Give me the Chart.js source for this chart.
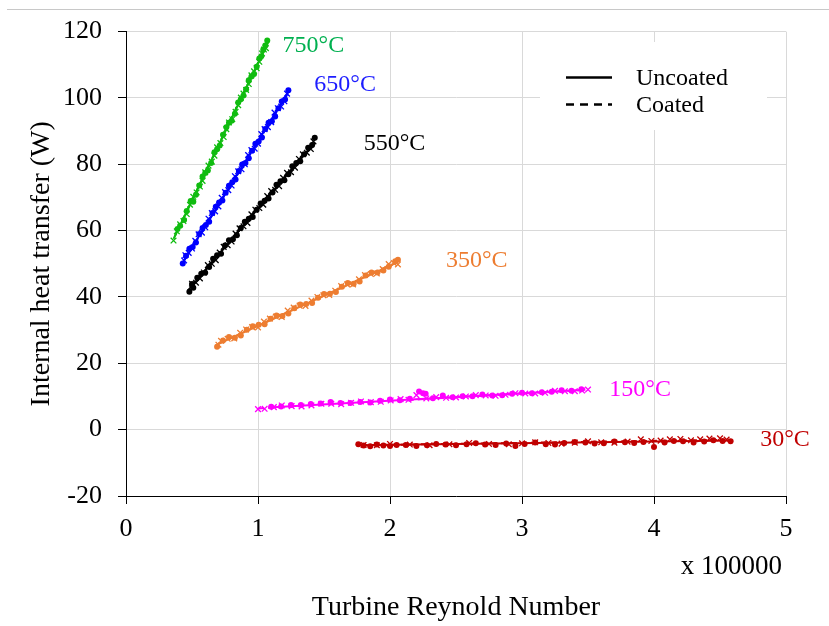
<!DOCTYPE html>
<html>
<head>
<meta charset="utf-8">
<script src="https://cdn.jsdelivr.net/npm/chart.js@4.4.1/dist/chart.umd.min.js"></script>
<style>
  html, body { margin: 0; padding: 0; background: #fff; }
  canvas { display: block; }
</style>
</head>
<body>
<canvas id="myChart" width="829" height="626"></canvas>
<script>
// temperatures and their series (x in units of 100000)
const temps = ['750°C', '650°C', '550°C', '350°C', '150°C', '30°C'];

// uncoated measurements (dots)
const u750 = [[0.39,60.5],[0.44,63.2],[0.49,68.9],[0.53,70.8],[0.58,76.3],[0.62,78.1],[0.67,83.6],[0.71,85.7],[0.76,91.2],[0.80,93.1],[0.85,98.6],[0.89,100.7],[0.93,105.3],[0.97,107.2],[1.01,111.9],[1.04,114.5],[1.07,117.3],
  [0.41,61.5],[0.46,65.9],[0.51,68.7],[0.555,73.6],[0.60,77.4],[0.645,80.4],[0.69,84.5],[0.735,88.9],[0.78,92.5],[0.825,95.2],[0.87,99.6],[0.91,102.6],[0.95,106.5],[0.99,109.4],[1.025,112.6],[1.055,115.8]];
const u650 = [[0.43,50.1],[0.48,54.5],[0.53,56.4],[0.58,60.8],[0.63,62.7],[0.68,67.2],[0.73,69.1],[0.78,73.5],[0.83,75.4],[0.88,79.9],[0.93,81.8],[0.98,86.2],[1.03,88.1],[1.08,92.5],[1.13,94.4],[1.18,98.9],[1.23,102.3],
  [0.455,52.4],[0.505,55.1],[0.555,59.0],[0.605,61.7],[0.655,65.3],[0.705,68.5],[0.755,71.4],[0.805,74.6],[0.855,78.0],[0.905,80.4],[0.955,84.1],[1.005,86.9],[1.055,90.6],[1.105,93.0],[1.155,96.9],[1.205,99.5]];
const u550 = [[0.48,41.6],[0.54,45.8],[0.60,47.3],[0.66,51.5],[0.72,53.0],[0.78,57.1],[0.84,58.6],[0.90,62.7],[0.96,64.1],[1.02,68.2],[1.08,69.7],[1.14,73.8],[1.20,75.2],[1.26,79.4],[1.32,80.9],[1.38,85.0],[1.43,88.0],
  [0.50,43.9],[0.51,42.8],[0.57,47.0],[0.63,49.0],[0.69,52.6],[0.75,55.5],[0.81,57.4],[0.87,60.8],[0.93,63.6],[0.99,66.3],[1.05,69.0],[1.11,71.5],[1.17,74.9],[1.23,77.0],[1.29,80.4],[1.35,83.0],[1.41,85.8]];
const u350 = [[0.69,25.0],[0.78,27.9],[0.87,28.4],[0.96,31.2],[1.05,31.8],[1.14,34.4],[1.23,35.0],[1.32,37.7],[1.41,38.2],[1.50,40.9],[1.59,41.5],[1.68,44.2],[1.77,44.7],[1.86,47.4],[1.95,48.0],[2.04,50.8],
  [0.735,26.9],[0.825,27.7],[0.915,30.1],[1.005,31.6],[1.095,33.4],[1.185,34.3],[1.275,36.6],[1.365,37.9],[1.455,39.8],[1.545,41.0],[1.635,43.1],[1.725,44.0],[1.815,46.5],[1.905,47.4],[1.99,49.1],[2.06,51.2]];
const u150 = [[1.10,6.9],[1.25,7.4],[1.40,7.7],[1.55,8.3],[1.70,8.0],[1.85,8.2],[2.00,9.1],[2.15,9.3],[2.22,11.5],[2.27,10.8],[2.40,10.3],[2.55,10.1],[2.70,10.6],[2.85,10.4],[3.00,11.1],[3.15,11.3],[3.30,11.9],[3.45,12.2],
  [1.175,7.0],[1.325,7.4],[1.475,7.9],[1.625,8.0],[1.775,8.3],[1.925,8.7],[2.075,8.9],[2.25,11.0],[2.325,9.5],[2.475,9.8],[2.625,10.1],[2.775,10.3],[2.925,10.8],[3.075,11.0],[3.225,11.4],[3.375,11.7]];
const u30 = [[1.76,-4.4],[1.85,-5.0],[1.95,-4.8],[2.05,-4.6],[2.20,-4.9],[2.35,-4.3],[2.50,-4.7],[2.65,-4.1],[2.80,-4.6],[2.95,-4.9],[3.10,-3.9],[3.25,-4.5],[3.40,-3.7],[3.55,-4.2],[3.70,-3.6],[3.85,-4.0],[4.00,-5.2],[4.15,-3.4],[4.30,-3.9],[4.45,-3.2],[4.58,-3.5],
  [1.80,-4.8],[1.90,-4.5],[2.00,-4.9],[2.12,-4.6],[2.28,-4.7],[2.42,-4.5],[2.58,-4.4],[2.72,-4.5],[2.88,-4.2],[3.02,-4.3],[3.18,-4.4],[3.32,-4.0],[3.48,-3.9],[3.62,-4.1],[3.78,-3.8],[3.92,-3.7],[4.08,-3.9],[4.22,-3.5],[4.38,-3.6],[4.52,-3.4]];

// coated measurements (crosses)
const c750 = [[0.36,57.0],[0.41,61.9],[0.46,65.0],[0.51,70.2],[0.56,73.3],[0.60,77.6],[0.65,80.8],[0.69,85.1],[0.74,88.2],[0.78,92.6],[0.83,95.8],[0.87,100.1],[0.91,102.4],[0.95,106.8],[0.99,109.0],[1.03,113.4],[1.06,115.0],
  [0.385,59.8],[0.435,62.9],[0.485,67.8],[0.535,71.5],[0.58,75.0],[0.625,79.6],[0.67,82.6],[0.715,86.4],[0.76,90.6],[0.805,93.6],[0.85,97.8],[0.89,101.3],[0.93,104.2],[0.97,108.0],[1.01,110.9],[1.045,114.6]];
const c650 = [[0.45,52.6],[0.50,54.6],[0.55,58.9],[0.60,61.0],[0.65,65.3],[0.70,67.3],[0.75,71.6],[0.80,73.6],[0.85,77.9],[0.90,80.0],[0.95,84.3],[1.00,86.2],[1.05,90.6],[1.10,92.7],[1.15,96.9],[1.20,99.0],[1.22,101.3],
  [0.44,51.0],[0.475,53.3],[0.525,56.9],[0.575,59.4],[0.625,63.6],[0.675,65.8],[0.725,69.9],[0.775,72.2],[0.825,76.4],[0.875,78.5],[0.925,82.8],[0.975,84.7],[1.025,89.1],[1.075,91.2],[1.125,95.6],[1.175,97.4]];
const c550 = [[0.50,44.0],[0.56,45.6],[0.62,49.6],[0.68,51.1],[0.74,55.1],[0.80,56.7],[0.86,60.7],[0.92,62.3],[0.98,66.3],[1.04,67.8],[1.10,71.9],[1.16,73.4],[1.22,77.4],[1.28,79.0],[1.34,83.0],[1.40,84.6],
  [0.53,44.3],[0.59,47.4],[0.65,50.0],[0.71,53.4],[0.77,55.6],[0.83,59.1],[0.89,61.3],[0.95,64.9],[1.01,66.8],[1.07,70.4],[1.13,72.3],[1.19,75.9],[1.25,77.6],[1.31,81.6],[1.37,83.5],[1.42,86.9]];
const c350 = [[0.72,26.8],[0.82,27.5],[0.91,30.2],[1.00,30.8],[1.09,33.5],[1.18,34.0],[1.27,36.8],[1.36,37.3],[1.45,40.0],[1.54,40.6],[1.63,43.3],[1.72,43.8],[1.81,46.6],[1.90,47.1],[1.99,49.9],[2.06,49.8],
  [0.70,25.6],[0.77,27.4],[0.865,29.2],[0.955,30.9],[1.045,32.6],[1.135,34.1],[1.225,35.9],[1.315,37.4],[1.405,38.9],[1.495,40.5],[1.585,41.9],[1.675,43.8],[1.765,45.3],[1.855,46.9],[1.945,48.4],[2.03,50.2]];
const c150 = [[1.00,6.2],[1.05,6.3],[1.18,7.3],[1.33,7.0],[1.48,7.8],[1.63,7.7],[1.78,8.5],[1.93,8.4],[2.08,9.2],[2.20,10.4],[2.35,9.8],[2.50,9.7],[2.65,10.4],[2.80,10.2],[2.95,11.0],[3.10,10.9],[3.25,11.7],[3.40,11.6],[3.50,12.1],
  [1.12,6.8],[1.255,7.1],[1.405,7.3],[1.555,7.8],[1.705,8.1],[1.855,8.3],[2.005,8.8],[2.14,9.0],[2.275,9.4],[2.425,9.6],[2.575,10.0],[2.725,10.3],[2.875,10.5],[3.025,10.9],[3.175,11.1],[3.325,11.6],[3.455,11.8]];
const c30 = [[1.80,-4.6],[2.00,-4.3],[2.30,-4.7],[2.60,-4.0],[2.90,-4.4],[3.10,-3.8],[3.30,-4.2],[3.50,-3.5],[3.70,-3.9],[3.90,-2.9],[4.05,-3.3],[4.20,-2.8],[4.35,-2.9],[4.50,-2.6],
  [1.90,-4.7],[2.15,-4.5],[2.45,-4.4],[2.75,-4.3],[3.00,-4.1],[3.20,-4.0],[3.40,-3.9],[3.60,-3.8],[3.80,-3.6],[3.98,-3.4],[4.12,-2.9],[4.28,-3.2],[4.42,-2.7],[4.55,-3.0]];

// fitted trend lines (start, end)
const fitU = [[[0.37,58.3],[1.08,117.0]], [[0.43,50.4],[1.23,101.8]], [[0.47,42.0],[1.43,86.6]], [[0.68,25.5],[2.06,50.5]], [[1.08,6.7],[3.48,12.0]], [[1.75,-4.7],[4.60,-3.3]]];
const fitC = [[[0.36,57.5],[1.06,115.6]], [[0.44,51.0],[1.22,100.9]], [[0.49,43.0],[1.41,85.6]], [[0.70,25.9],[2.06,50.6]], [[1.00,6.4],[3.50,12.0]], [[1.78,-4.7],[4.50,-3.1]]];

const uncoated = [u750, u650, u550, u350, u150, u30];
const coated = [c750, c650, c550, c350, c150, c30];

const xTicks = [0, 1, 2, 3, 4, 5];
const yTicks = [-20, 0, 20, 40, 60, 80, 100, 120];

// styles
const colors = ['#10bc10', '#0000ff', '#000000', '#ed7d31', '#ff00ff', '#c00000'];
const labelColors = ['#00b050', '#1c1cff', '#000000', '#ed7d31', '#ff00ff', '#c00000'];
const labelOffsets = [[14, 4], [26, -7], [49, 1], [48, -1], [24, 0], [27, -1]]; // px from end of fit line

const serif = 'Liberation Serif';

function pts(arr) { return arr.map(p => ({x: p[0], y: p[1]})); }

const datasets = [];
for (let i = 0; i < temps.length; i++) {
  datasets.push({
    label: temps[i] + ' uncoated',
    data: pts(uncoated[i]),
    pointStyle: 'circle',
    pointRadius: 3,
    backgroundColor: colors[i],
    borderColor: colors[i],
    borderWidth: 0
  });
  datasets.push({
    label: temps[i] + ' coated',
    data: pts(coated[i]),
    pointStyle: 'crossRot',
    pointRadius: 4,
    backgroundColor: colors[i],
    borderColor: colors[i],
    borderWidth: 1.3
  });
  datasets.push({
    type: 'line',
    label: temps[i] + ' uncoated fit',
    data: pts(fitU[i]),
    borderColor: colors[i],
    borderWidth: 2,
    pointRadius: 0,
    fill: false
  });
  datasets.push({
    type: 'line',
    label: temps[i] + ' coated fit',
    data: pts(fitC[i]),
    borderColor: colors[i],
    borderWidth: 2,
    borderDash: [6, 4],
    pointRadius: 0,
    fill: false
  });
}

const extras = {
  id: 'extras',
  beforeDraw(chart) {
    const ctx = chart.ctx;
    ctx.save();
    ctx.fillStyle = '#fff';
    ctx.fillRect(0, 0, chart.width, chart.height);
    ctx.strokeStyle = '#c8c8c8';
    ctx.lineWidth = 1;
    ctx.beginPath();
    ctx.moveTo(7, 9.5);
    ctx.lineTo(829, 9.5);
    ctx.stroke();
    ctx.restore();
  },
  beforeDatasetsDraw(chart) {
    // white legend box covering the grid
    const ctx = chart.ctx;
    ctx.save();
    ctx.fillStyle = '#fff';
    ctx.fillRect(540, 42, 227, 88);
    ctx.restore();
  },
  afterDraw(chart) {
    const ctx = chart.ctx;
    const xs = chart.scales.x, ys = chart.scales.y;
    ctx.save();
    // legend
    ctx.strokeStyle = '#000';
    ctx.lineWidth = 2.5;
    ctx.beginPath();
    ctx.moveTo(566, 77.5); ctx.lineTo(612, 77.5);
    ctx.stroke();
    ctx.setLineDash([8, 6]);
    ctx.beginPath();
    ctx.moveTo(566, 104.5); ctx.lineTo(612, 104.5);
    ctx.stroke();
    ctx.setLineDash([]);
    ctx.fillStyle = '#000';
    ctx.font = '24px "' + serif + '"';
    ctx.textAlign = 'left';
    ctx.textBaseline = 'middle';
    ctx.fillText('Uncoated', 636, 79);
    ctx.fillText('Coated', 636, 106);
    // temperature labels at the ends of the fits
    for (let i = 0; i < temps.length; i++) {
      const end = fitU[i][1];
      const px = xs.getPixelForValue(end[0]) + labelOffsets[i][0];
      const py = ys.getPixelForValue(end[1]) + labelOffsets[i][1];
      ctx.fillStyle = labelColors[i];
      ctx.fillText(temps[i], px, py);
    }
    // multiplier note
    ctx.fillStyle = '#000';
    ctx.font = '27px "' + serif + '"';
    ctx.textAlign = 'right';
    ctx.fillText('x 100000', 782, 567);
    ctx.restore();
  }
};

new Chart(document.getElementById('myChart'), {
  type: 'scatter',
  data: { datasets: datasets },
  options: {
    responsive: false,
    animation: false,
    layout: { padding: { left: 0, right: 43, top: 31, bottom: 0 } },
    plugins: { legend: { display: false }, tooltip: { enabled: false } },
    scales: {
      x: {
        type: 'linear',
        min: xTicks[0],
        max: xTicks[xTicks.length - 1],
        afterBuildTicks(scale) { scale.ticks = xTicks.map(v => ({value: v})); },
        afterFit(scale) { scale.height = 130; },
        ticks: { color: '#000', padding: 10, font: { family: serif, size: 26 } },
        grid: { color: '#d9d9d9', tickColor: '#000', tickLength: 8 },
        border: { color: '#000', width: 1 },
        title: {
          display: true,
          text: 'Turbine Reynold Number',
          color: '#000',
          font: { family: serif, size: 28 },
          padding: { top: 0, bottom: 2 }
        }
      },
      y: {
        type: 'linear',
        min: yTicks[0],
        max: yTicks[yTicks.length - 1],
        afterBuildTicks(scale) { scale.ticks = yTicks.map(v => ({value: v})); },
        afterFit(scale) { scale.width = 126; },
        ticks: { color: '#000', padding: 16, font: { family: serif, size: 26 } },
        grid: { color: '#d9d9d9', tickColor: '#000', tickLength: 8 },
        border: { color: '#000', width: 1 },
        title: {
          display: true,
          text: 'Internal heat transfer (W)',
          color: '#000',
          font: { family: serif, size: 28 },
          padding: { top: 25, bottom: 0 }
        }
      }
    }
  },
  plugins: [extras]
});
</script>
</body>
</html>
